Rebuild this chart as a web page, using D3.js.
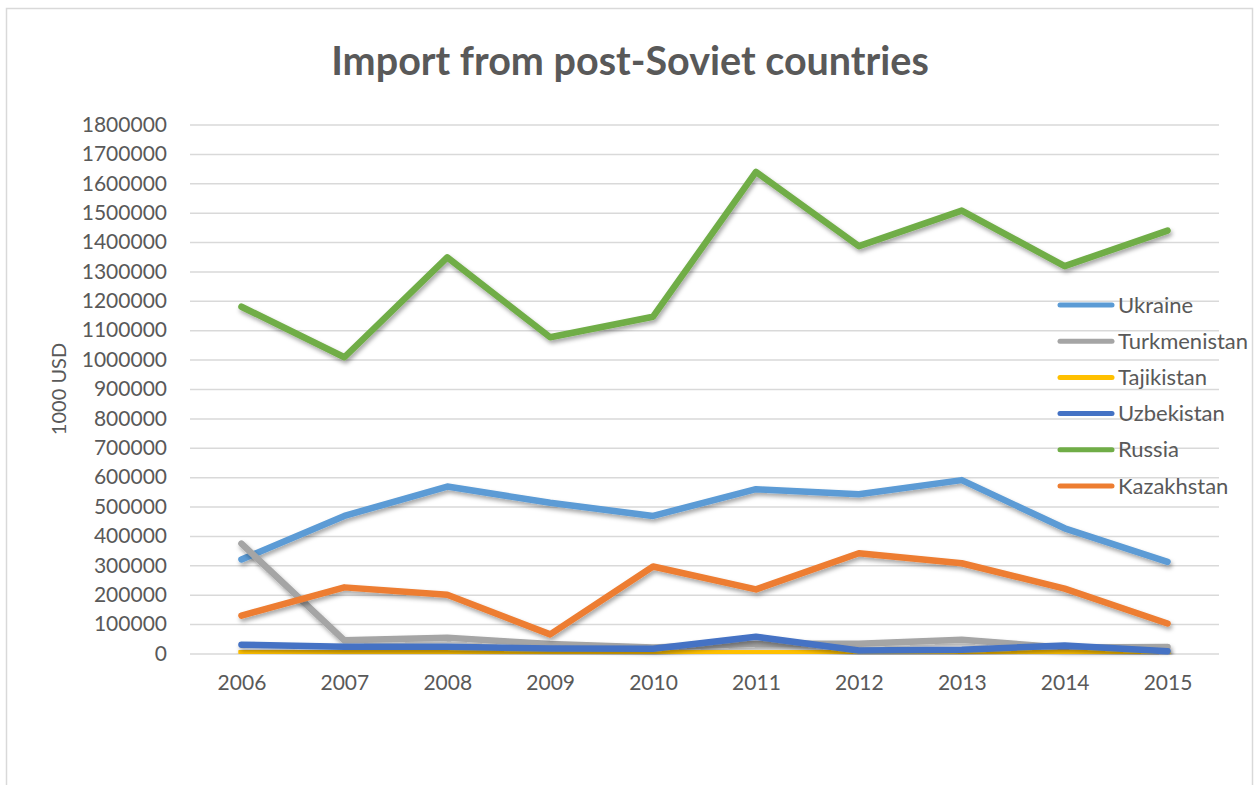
<!DOCTYPE html>
<html>
<head>
<meta charset="utf-8">
<script src="https://cdn.jsdelivr.net/npm/d3@7"></script>
<style>
  body { margin: 0; background: #fff; }
</style>
</head>
<body>
<div id="chart"></div>
<script>
// values (1000 USD)
var years = [2006, 2007, 2008, 2009, 2010, 2011, 2012, 2013, 2014, 2015];
var ukraine      = [320000, 468000, 568000, 513000, 468000, 559000, 542000, 590000, 426000, 312000];
var turkmenistan = [374000, 45000, 54000, 32000, 20000, 33000, 33000, 47000, 20000, 22000];
var tajikistan   = [5000, 3000, 5000, 2000, 2000, 10000, 1000, 2000, 6000, 1000];
var uzbekistan   = [30000, 23000, 23000, 17000, 16000, 57000, 10000, 13000, 27000, 8000];
var russia       = [1180000, 1008000, 1348000, 1076000, 1146000, 1639000, 1386000, 1507000, 1318000, 1439000];
var kazakhstan   = [129000, 225000, 200000, 65000, 296000, 218000, 341000, 307000, 221000, 102000];
var yTicks = d3.range(0, 1800001, 100000);

var seriesNames  = ["Ukraine", "Turkmenistan", "Tajikistan", "Uzbekistan", "Russia", "Kazakhstan"];
var seriesValues = [ukraine, turkmenistan, tajikistan, uzbekistan, russia, kazakhstan];
var seriesColors = ["#5b9bd5", "#a5a5a5", "#ffc000", "#4472c4", "#70ad47", "#ed7d31"];

var w = 1256,
    h = 785,
    font = "Lato, 'Open Sans', sans-serif",
    textColor = "#595959",
    svg = d3.select("#chart")
            .append("svg")
            .attr("width", w)
            .attr("height", h),
    x = d3.scalePoint().domain(years).range([190, 1219]).padding(0.5),
    y = d3.scaleLinear().domain([0, 1800000]).range([653.5, 124.5]);

// soft shadow under the lines, like the office chart
var defs = svg.append("defs");
defs.append("filter")
    .attr("id", "shadow")
    .attr("x", "-5%").attr("y", "-20%")
    .attr("width", "110%").attr("height", "140%")
  .append("feDropShadow")
    .attr("dx", 1.5)
    .attr("dy", 3)
    .attr("stdDeviation", 2)
    .attr("flood-color", "#000")
    .attr("flood-opacity", 0.35);

// chart border
svg.append("rect")
    .attr("x", 6.5)
    .attr("y", 8.5)
    .attr("width", 1246)
    .attr("height", 800)
    .attr("fill", "#fff")
    .attr("stroke", "#d9d9d9")
    .attr("stroke-width", 1.5);

// title
svg.append("text")
    .attr("x", 630)
    .attr("y", 75)
    .attr("text-anchor", "middle")
    .attr("font-family", font)
    .attr("font-weight", "bold")
    .attr("font-size", "39.5px")
    .attr("fill", textColor)
    .text("Import from post-Soviet countries");

// y axis with gridlines
var yAxis = svg.append("g")
    .attr("transform", "translate(190,0)")
    .call(d3.axisLeft(y).tickValues(yTicks).tickSize(-1029).tickPadding(23).tickFormat(d3.format("d")));
yAxis.select(".domain").remove();
yAxis.selectAll(".tick line")
    .attr("stroke", "#d9d9d9")
    .attr("stroke-width", 1.5);
yAxis.selectAll(".tick text")
    .attr("font-family", font)
    .attr("font-size", "21px")
    .attr("fill", textColor);

// x axis labels
var xAxis = svg.append("g")
    .attr("transform", "translate(0,653.5)")
    .call(d3.axisBottom(x).tickSize(0).tickPadding(22));
xAxis.select(".domain").remove();
xAxis.selectAll(".tick text")
    .attr("font-family", font)
    .attr("font-size", "21px")
    .attr("fill", textColor);

// y axis title
svg.append("text")
    .attr("transform", "translate(66,389) rotate(-90)")
    .attr("text-anchor", "middle")
    .attr("font-family", font)
    .attr("font-size", "20px")
    .attr("fill", textColor)
    .text("1000 USD");

// the data lines
var line = d3.line()
    .x(function(d, i) { return x(years[i]); })
    .y(function(d) { return y(d); });

svg.append("g")
    .selectAll("path")
    .data(seriesValues)
    .enter()
    .append("path")
    .attr("fill", "none")
    .attr("stroke", function(d, i) { return seriesColors[i]; })
    .attr("stroke-width", 6.5)
    .attr("stroke-linejoin", "round")
    .attr("stroke-linecap", "round")
    .attr("filter", "url(#shadow)")
    .attr("d", line);

// legend
var legend = svg.append("g")
    .selectAll("g")
    .data(seriesNames)
    .enter()
    .append("g")
    .attr("transform", function(d, i) { return "translate(1058," + (305 + i * 36.2) + ")"; });

legend.append("line")
    .attr("x1", 2)
    .attr("x2", 54)
    .attr("stroke", function(d, i) { return seriesColors[i]; })
    .attr("stroke-width", 5)
    .attr("stroke-linecap", "round");

legend.append("text")
    .attr("x", 60)
    .attr("y", 7.5)
    .attr("font-family", font)
    .attr("font-size", "22px")
    .attr("fill", textColor)
    .text(function(d) { return d; });
</script>
</body>
</html>
